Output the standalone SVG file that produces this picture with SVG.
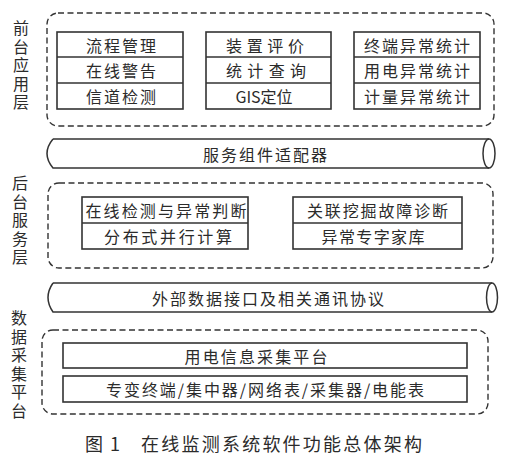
<svg xmlns="http://www.w3.org/2000/svg" width="515" height="462" viewBox="0 0 515 462">
<style>
text{font-family:"Noto Sans CJK SC","Noto Sans CJK JP",sans-serif;fill:#2b2b2b;font-size:16px;dominant-baseline:central;text-anchor:middle}
.dash{fill:none;stroke:#333;stroke-width:1.4;stroke-dasharray:6 3.5}
.box{fill:#fff;stroke:#333;stroke-width:1.6}
.ln{stroke:#333;stroke-width:1.6}
.tube{fill:none;stroke:#333;stroke-width:1.5}
.lbl{font-size:16px;writing-mode:vertical-rl;text-anchor:start;letter-spacing:2.6px;glyph-orientation-vertical:0}
.cap{font-size:18px;text-anchor:start}
</style>
<rect width="515" height="462" fill="#fff"/>
<g id="connectors"/>
<g id="layer-front">
<rect class="dash" x="47" y="13" width="447" height="113" rx="11"/>
<text class="lbl" x="21" y="20">前台应用层</text>
</g>
<g id="node-col1">
<rect class="box" x="57" y="32" width="126" height="77"/>
<line class="ln" x1="57" y1="57" x2="183" y2="57"/>
<line class="ln" x1="57" y1="83" x2="183" y2="83"/>
<text x="121" y="44.5" textLength="70" lengthAdjust="spacing">流程管理</text>
<text x="121" y="70" textLength="70" lengthAdjust="spacing">在线警告</text>
<text x="121" y="96" textLength="70" lengthAdjust="spacing">信道检测</text>
</g>
<g id="node-col2">
<rect class="box" x="206" y="32" width="125" height="77"/>
<line class="ln" x1="206" y1="57" x2="331" y2="57"/>
<line class="ln" x1="206" y1="83" x2="331" y2="83"/>
<text x="265" y="44.5" textLength="78" lengthAdjust="spacing">装置评价</text>
<text x="266" y="70" textLength="80" lengthAdjust="spacing">统计查询</text>
<text x="264" y="96">GIS定位</text>
</g>
<g id="node-col3">
<rect class="box" x="354" y="32" width="126" height="77"/>
<line class="ln" x1="354" y1="57" x2="480" y2="57"/>
<line class="ln" x1="354" y1="83" x2="480" y2="83"/>
<text x="417" y="44.5" textLength="106" lengthAdjust="spacing">终端异常统计</text>
<text x="417" y="70" textLength="106" lengthAdjust="spacing">用电异常统计</text>
<text x="417" y="96" textLength="106" lengthAdjust="spacing">计量异常统计</text>
</g>
<g id="node-adapter">
<path class="tube" d="M53,139 L489,139 M489,168 L53,168 Q41,153.5 53,139"/>
<ellipse class="tube" cx="489" cy="153.5" rx="6" ry="14.5"/>
<text x="265" y="153.5" textLength="124" lengthAdjust="spacing">服务组件适配器</text>
</g>
<g id="layer-back">
<rect class="dash" x="48" y="183" width="445" height="85" rx="11"/>
<text class="lbl" x="20" y="175">后台服务层</text>
</g>
<g id="node-detect">
<rect class="box" x="82" y="197" width="166" height="52"/>
<line class="ln" x1="82" y1="223" x2="248" y2="223"/>
<text x="166" y="210" textLength="161" lengthAdjust="spacing">在线检测与异常判断</text>
<text x="168" y="236" textLength="128" lengthAdjust="spacing">分布式并行计算</text>
</g>
<g id="node-diagnose">
<rect class="box" x="293" y="197" width="169" height="52"/>
<line class="ln" x1="293" y1="223" x2="462" y2="223"/>
<text x="377.5" y="210" textLength="141" lengthAdjust="spacing">关联挖掘故障诊断</text>
<text x="373" y="236" textLength="103" lengthAdjust="spacing">异常专字家库</text>
</g>
<g id="node-interface">
<path class="tube" d="M53,283 L492,283 M492,312 L53,312 Q43,297.5 53,283"/>
<ellipse class="tube" cx="492" cy="297.5" rx="5.5" ry="14.5"/>
<text x="268" y="297.5" textLength="232" lengthAdjust="spacing">外部数据接口及相关通讯协议</text>
</g>
<g id="layer-data">
<rect class="dash" x="42" y="330" width="446" height="84" rx="11"/>
<text class="lbl" x="19" y="310">数据采集平台</text>
</g>
<g id="node-platform">
<rect class="box" x="63" y="343" width="404" height="25"/>
<text x="256" y="355.5" textLength="143" lengthAdjust="spacing">用电信息采集平台</text>
</g>
<g id="node-devices">
<rect class="box" x="63" y="376" width="404" height="26"/>
<text x="265" y="389" textLength="318" lengthAdjust="spacing">专变终端/集中器/网络表/采集器/电能表</text>
</g>
<g id="caption">
<text class="cap" x="85" y="443" textLength="35" lengthAdjust="spacing">图 1</text>
<text class="cap" x="141" y="443" textLength="281" lengthAdjust="spacing">在线监测系统软件功能总体架构</text>
</g>
</svg>
